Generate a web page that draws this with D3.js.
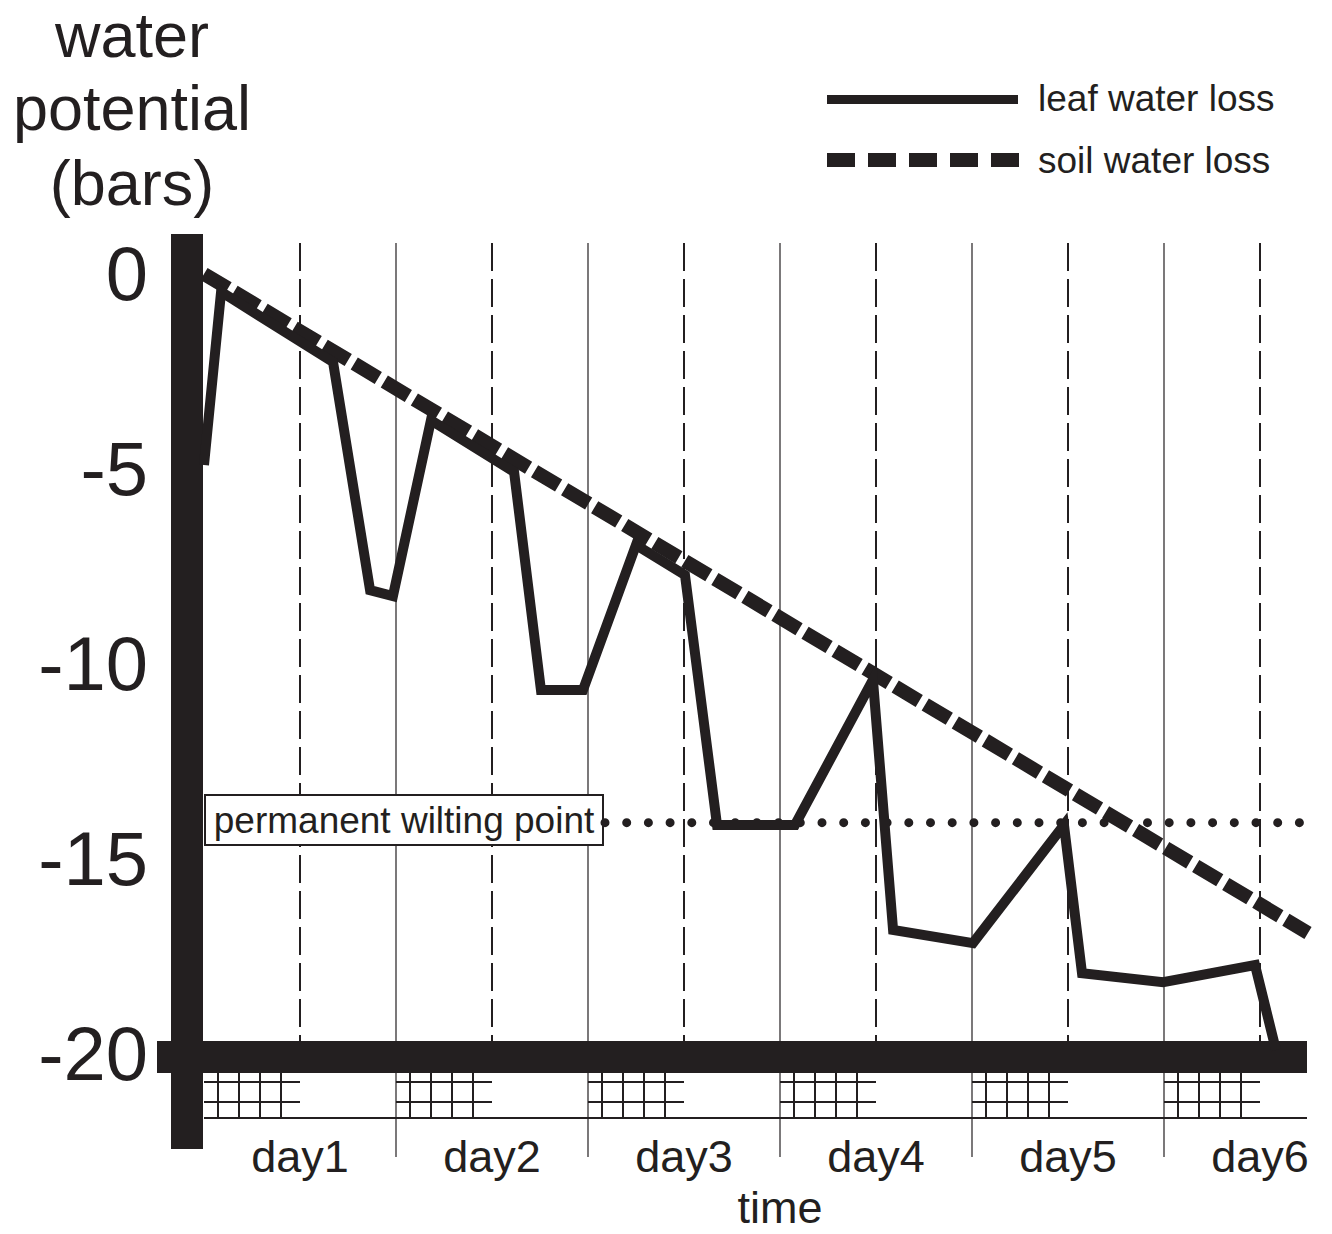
<!DOCTYPE html>
<html>
<head>
<meta charset="utf-8">
<script src="https://cdn.jsdelivr.net/npm/d3@7"></script>
<style>
  html, body { margin: 0; padding: 0; background: #fff; }
  svg { display: block; }
  text { font-family: "Liberation Sans", Arial, Helvetica, sans-serif; fill: #231f20; }
</style>
</head>
<body>
<script>
// ---- data ----
const dayTicks = [1, 2, 3, 4, 5, 6];
const dayLabels = ["day1", "day2", "day3", "day4", "day5", "day6"];
const halfDayTicks = [1.5, 2.5, 3.5, 4.5, 5.5];
const nightStarts = [0.5, 1.5, 2.5, 3.5, 4.5, 5.5];
const nightEnds = [1, 2, 3, 4, 5, 6];
const yTicks = [0, -5, -10, -15, -20];
const yTickLabels = ["0", "-5", "-10", "-15", "-20"];

const leafTime  = [0.5, 0.589, 1.172, 1.365, 1.484, 1.682, 2.115, 2.255, 2.474, 2.75, 3.005, 3.172, 3.578, 3.984, 4.089, 4.505, 4.979, 5.073, 5.495, 5.974, 6.083];
const leafValue = [-5.0, -0.56, -2.36, -8.21, -8.36, -3.85, -5.18, -10.77, -10.77, -7.05, -7.82, -14.23, -14.23, -10.51, -16.92, -17.26, -14.23, -18.03, -18.26, -17.82, -20.0];

const soilTime  = [0.5, 6.25];
const soilValue = [-0.1, -17.0];

const wiltingPoint = -14.17;
const wiltingLabel = "permanent wilting point";

const seriesNames = ["leaf water loss", "soil water loss"];
const titleLines = ["water", "potential", "(bars)"];
const xTitle = "time";

// ---- layout ----
const W = 1332, H = 1234;
const INK = "#231f20";
const svg = d3.select("body").append("svg").attr("width", W).attr("height", H);

const x = d3.scaleLinear().domain([0.5, 6.25]).range([204, 1308]);
const y = d3.scaleLinear().domain([0, -20]).range([270, 1050]);

const gridTop = 243, barTop = 1041, barBottom = 1073, hatchBottom = 1118;

// vertical grid: dashed at day boundaries
svg.append("g").selectAll("line").data(dayTicks).join("line")
  .attr("x1", d => x(d)).attr("x2", d => x(d))
  .attr("y1", gridTop).attr("y2", barTop)
  .attr("stroke", INK).attr("stroke-width", 2).attr("stroke-dasharray", "28,8");

// thin solid at half days
svg.append("g").selectAll("line").data(halfDayTicks).join("line")
  .attr("x1", d => x(d)).attr("x2", d => x(d))
  .attr("y1", gridTop).attr("y2", 1157)
  .attr("stroke", INK).attr("stroke-width", 1.2);

// hatch (night) boxes below the x axis
const hatch = svg.append("g");
nightStarts.forEach((s, i) => {
  const x0 = x(s), x1 = x(nightEnds[i]);
  [1082, 1102].forEach(yy => {
    hatch.append("line").attr("x1", x0).attr("x2", x1).attr("y1", yy).attr("y2", yy)
      .attr("stroke", INK).attr("stroke-width", 2);
  });
  for (let k = 0; k < 4; k++) {
    const xx = x0 + 14 + 21 * k;
    hatch.append("line").attr("x1", xx).attr("x2", xx).attr("y1", barBottom).attr("y2", hatchBottom)
      .attr("stroke", INK).attr("stroke-width", 2);
  }
});
// baseline under hatch
svg.append("line").attr("x1", x(0.5)).attr("x2", 1307).attr("y1", hatchBottom).attr("y2", hatchBottom)
  .attr("stroke", INK).attr("stroke-width", 2);

// thick axes
svg.append("rect").attr("x", 157).attr("y", barTop).attr("width", 1307 - 157).attr("height", barBottom - barTop).attr("fill", INK);
svg.append("rect").attr("x", 171).attr("y", 234).attr("width", 32).attr("height", 1149 - 234).attr("fill", INK);

// y tick labels
svg.append("g").selectAll("text").data(yTicks).join("text")
  .attr("x", 148).attr("y", d => y(d) + 30)
  .attr("text-anchor", "end").attr("font-size", 76)
  .text((d, i) => yTickLabels[i]);

// y title
const titleY = [57, 130, 205];
svg.append("g").selectAll("text").data(titleLines).join("text")
  .attr("x", 132).attr("y", (d, i) => titleY[i])
  .attr("text-anchor", "middle").attr("font-size", 63)
  .text(d => d);

// day labels
svg.append("g").selectAll("text").data(dayTicks).join("text")
  .attr("x", d => x(d)).attr("y", 1172)
  .attr("text-anchor", "middle").attr("font-size", 45)
  .text((d, i) => dayLabels[i]);

svg.append("text").attr("x", x(3.5)).attr("y", 1223)
  .attr("text-anchor", "middle").attr("font-size", 45).text(xTitle);

// wilting point label box
svg.append("rect").attr("x", 205).attr("y", 795).attr("width", 398).attr("height", 50)
  .attr("fill", "#fff").attr("stroke", INK).attr("stroke-width", 2);
svg.append("text").attr("x", 404).attr("y", 833).attr("text-anchor", "middle")
  .attr("font-size", 37).text(wiltingLabel);

// wilting dotted line
svg.append("line").attr("x1", 605).attr("x2", 1307)
  .attr("y1", y(wiltingPoint)).attr("y2", y(wiltingPoint))
  .attr("stroke", INK).attr("stroke-width", 9).attr("stroke-linecap", "round")
  .attr("stroke-dasharray", "0,21.7");

const line = d3.line().x(d => x(d[0])).y(d => y(d[1]));

// soil water loss (dashed)
svg.append("path").datum(soilTime.map((t, i) => [t, soilValue[i]]))
  .attr("d", line).attr("fill", "none").attr("stroke", INK)
  .attr("stroke-width", 14).attr("stroke-dasharray", "28,7");

// leaf water loss (solid)
svg.append("path").datum(leafTime.map((t, i) => [t, leafValue[i]]))
  .attr("d", line).attr("fill", "none").attr("stroke", INK)
  .attr("stroke-width", 10).attr("stroke-linejoin", "miter").attr("stroke-miterlimit", 4);

// legend
const lg = svg.append("g");
lg.append("line").attr("x1", 827).attr("x2", 1018).attr("y1", 99.5).attr("y2", 99.5)
  .attr("stroke", INK).attr("stroke-width", 9);
lg.append("line").attr("x1", 827).attr("x2", 1019).attr("y1", 160).attr("y2", 160)
  .attr("stroke", INK).attr("stroke-width", 14).attr("stroke-dasharray", "28,13");
lg.append("text").attr("x", 1038).attr("y", 111).attr("font-size", 37).text(seriesNames[0]);
lg.append("text").attr("x", 1038).attr("y", 173).attr("font-size", 37).text(seriesNames[1]);
</script>
</body>
</html>
